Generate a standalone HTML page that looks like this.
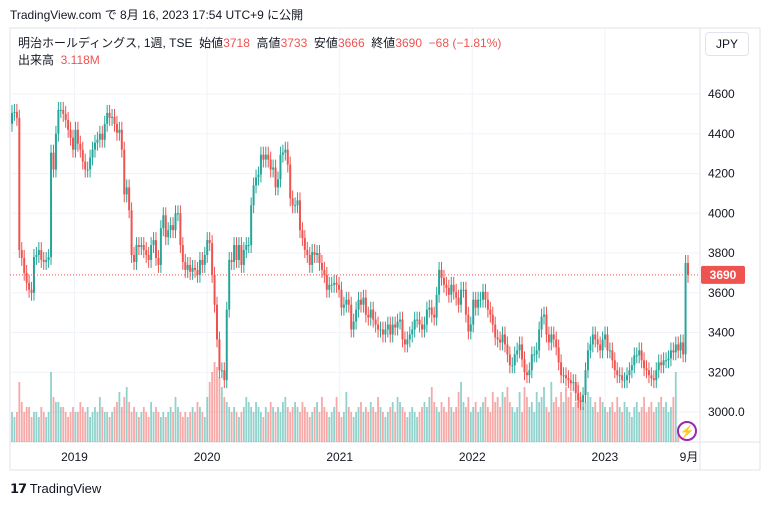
<!DOCTYPE html>
<html><head><meta charset="utf-8">
<style>
body{margin:0;width:765px;height:506px;background:#fff;font-family:"Liberation Sans","Noto Sans CJK JP",sans-serif;overflow:hidden;position:relative}
.t{position:absolute;font-size:12px;color:#131722;white-space:nowrap}
</style></head><body>
<div class="t" style="left:10px;top:6px;font-size:12px;color:#131722">TradingView.com で 8月 16, 2023 17:54 UTC+9 に公開</div>
<svg id="c" width="765" height="506" style="position:absolute;left:0;top:0"></svg>
<div class="t" style="left:18px;top:34px">明治ホールディングス, 1週, TSE&nbsp; 始値<span style="color:#ef5350">3718</span>&nbsp; 高値<span style="color:#ef5350">3733</span>&nbsp; 安値<span style="color:#ef5350">3666</span>&nbsp; 終値<span style="color:#ef5350">3690&nbsp; −68 (−1.81%)</span></div>
<div class="t" style="left:18px;top:51px">出来高&nbsp; <span style="color:#ef5350">3.118M</span></div>
<div class="t" style="left:705px;top:32px;width:42px;height:22px;border:1px solid #e0e3eb;border-radius:4px;text-align:center;line-height:22px">JPY</div>
<div class="t" style="left:10px;top:481px;font-size:13px;font-weight:bold"><span style="font-size:13px;letter-spacing:-1px">𝟭𝟳</span> <span style="font-weight:normal">TradingView</span></div>
<script>
const closes=[4505,4510,4480,3815,3775,3700,3650,3615,3600,3780,3790,3815,3765,3755,3765,3780,4305,4220,4400,4520,4520,4500,4470,4420,4380,4320,4420,4350,4320,4260,4220,4220,4280,4320,4355,4370,4400,4370,4450,4505,4480,4485,4450,4405,4420,4320,4095,4130,4015,3790,3755,3840,3830,3840,3815,3790,3765,3840,3865,3775,3740,3925,3990,3880,3915,3940,3915,4000,4000,3840,3755,3715,3740,3705,3725,3715,3690,3765,3740,3790,3865,3850,3690,3540,3365,3210,3210,3160,3515,3765,3755,3840,3765,3840,3740,3815,3840,3840,4040,4140,4180,4195,4295,4270,4295,4270,4220,4230,4130,4170,4295,4305,4320,4245,4075,4040,4040,4065,3915,3875,3815,3790,3740,3805,3790,3800,3750,3715,3690,3615,3640,3640,3650,3640,3615,3525,3540,3565,3540,3415,3455,3515,3565,3540,3575,3490,3475,3515,3465,3440,3415,3415,3390,3415,3440,3390,3440,3425,3455,3465,3365,3340,3365,3390,3415,3465,3465,3440,3415,3440,3515,3525,3490,3475,3590,3715,3675,3640,3625,3590,3640,3605,3575,3540,3615,3615,3490,3405,3440,3565,3525,3565,3565,3605,3565,3515,3490,3440,3375,3365,3350,3390,3340,3290,3235,3235,3290,3310,3340,3265,3200,3185,3210,3290,3290,3310,3415,3480,3490,3390,3350,3390,3365,3325,3250,3185,3185,3170,3160,3145,3150,3095,3060,3050,3085,3210,3310,3340,3390,3365,3340,3310,3365,3390,3310,3310,3260,3210,3185,3185,3160,3160,3185,3210,3235,3285,3285,3310,3260,3220,3210,3185,3170,3160,3210,3250,3235,3260,3260,3270,3310,3300,3340,3310,3350,3290,3750,3690];
const volumes=[6,5,6,12,8,6,7,7,5,6,6,5,7,6,5,6,14,9,8,8,7,7,6,5,6,7,6,6,8,7,6,7,5,6,7,6,9,7,6,6,5,6,7,8,10,7,9,11,8,6,7,6,5,6,7,6,5,8,6,7,6,5,6,5,6,7,6,9,7,6,5,6,5,6,7,6,8,7,6,5,9,12,14,16,15,13,11,9,8,7,6,7,6,5,6,7,9,8,7,6,8,7,6,5,7,6,8,7,6,7,6,8,9,7,6,7,8,7,6,8,7,6,5,6,7,8,6,9,7,6,5,6,7,9,6,5,6,10,7,6,5,6,7,8,6,7,6,8,7,6,9,7,6,5,6,7,8,6,9,8,7,6,5,6,7,6,5,6,7,8,7,9,11,8,7,6,8,7,6,9,7,6,7,10,12,8,7,9,6,7,8,6,7,8,9,7,6,10,8,9,7,10,9,11,8,7,6,7,10,6,11,9,7,8,6,10,8,9,11,7,6,12,8,9,7,10,8,11,9,10,7,8,12,9,7,8,10,9,7,8,6,9,8,7,6,7,8,6,9,7,6,8,7,6,5,7,8,6,7,9,6,7,8,6,7,8,9,7,8,6,7,9,14,3.1];
const priceTicks=[4600,4400,4200,4000,3800,3600,3400,3200,3000];
const yearLabels=["2019","2020","2021","2022","2023","9月"];
const yearPos=[25,77,129,181,233,266];
const svg=document.getElementById('c');const NS='http://www.w3.org/2000/svg';
function el(t,a){const e=document.createElementNS(NS,t);for(const k in a)e.setAttribute(k,a[k]);svg.appendChild(e);return e;}
const L=10,R=700,T=28,B=442;
const y=p=>94+(4600-p)*0.19875;
const n=closes.length;const x=i=>12+i*(676/(n-1));
const xw=w=>12+(w-0.5)*2.55;
let e=el('rect',{x:10,y:28,width:750,height:442,fill:'none',stroke:'#e0e3eb'});

priceTicks.forEach(p=>{let g=el('line',{x1:L,x2:R,y1:y(p),y2:y(p),stroke:'#f0f3fa'});

let t=el('text',{x:708,y:y(p)+4,'font-size':12,fill:'#131722'});t.textContent=p===3000?'3000.0':String(p);
});
yearLabels.forEach((s,i)=>{const xx=xw(yearPos[i]);
if(i<5){let g=el('line',{x1:xx,x2:xx,y1:T,y2:B,stroke:'#f0f3fa'});}
let t=el('text',{x:xx,y:461,'font-size':12,fill:'#131722','text-anchor':'middle'});t.textContent=s;
});
let ax=el('line',{x1:R,x2:R,y1:T,y2:470,stroke:'#e0e3eb'});
let tx=el('line',{x1:L,x2:760,y1:B,y2:B,stroke:'#e0e3eb'});
for(let i=0;i<n;i++){const o=i?closes[i-1]:4450,c=closes[i];const up=c>=o;
const v=el('rect',{x:x(i)-0.9,y:B-volumes[i]*5,width:1.8,height:volumes[i]*5,fill:up?'rgba(38,166,154,0.5)':'rgba(239,83,80,0.5)'});
}
for(let i=0;i<n;i++){const o=i?closes[i-1]:4450,c=closes[i];const up=c>=o;const col=up?'#26a69a':'#ef5350';
const hi=Math.max(o,c)+40,lo=Math.min(o,c)-40;
const w=el('line',{x1:x(i),x2:x(i),y1:y(hi),y2:y(lo),stroke:col,'stroke-width':1});

const b=el('rect',{x:x(i)-1,y:y(Math.max(o,c)),width:2,height:Math.max(1,Math.abs(y(o)-y(c))),fill:col});
}
const last=closes[n-1];
let pl=el('line',{x1:L,x2:R,y1:y(last),y2:y(last),stroke:'#ef5350','stroke-dasharray':'1,2'});

let lb=el('rect',{x:701,y:y(last)-9,width:44,height:18,rx:2,fill:'#ef5350'});

let lt=el('text',{x:723,y:y(last)+4,'font-size':12,'font-weight':'bold',fill:'#fff','text-anchor':'middle'});lt.textContent=String(last);

let ic=el('circle',{cx:687,cy:431,r:9,fill:'#fff',stroke:'#9c27b0','stroke-width':2});

let it=el('text',{x:687,y:435.5,'font-size':12,fill:'#9c27b0','text-anchor':'middle'});it.textContent='⚡';

</script>
</body></html>
